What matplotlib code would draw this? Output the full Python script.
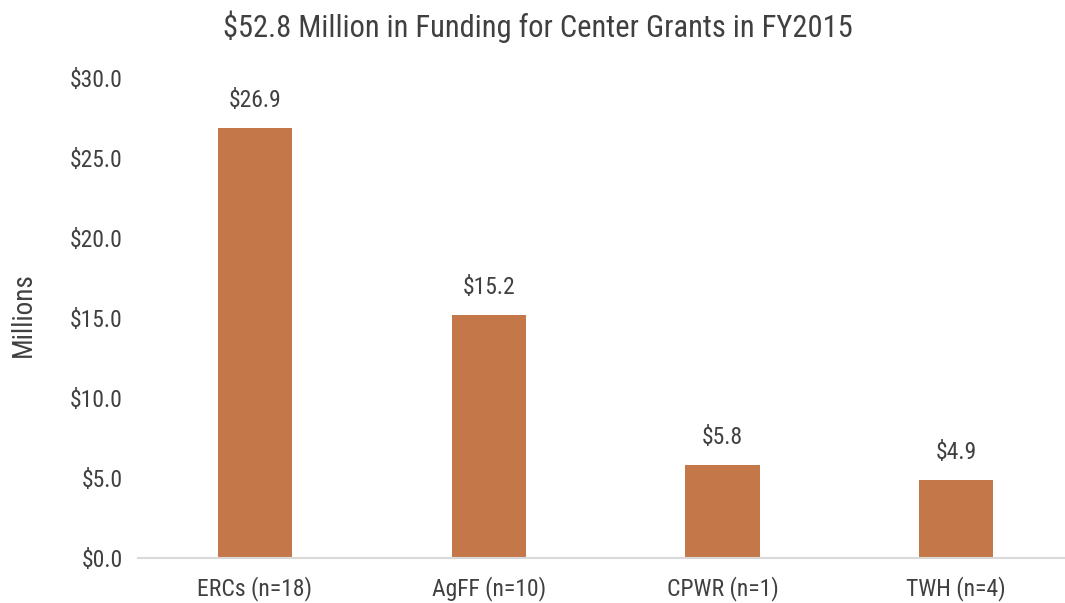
import matplotlib
matplotlib.use("Agg")
import matplotlib.pyplot as plt
from matplotlib.ticker import FuncFormatter

# --- Data --------------------------------------------------------------------

categories = ["ERCs (n=18)", "AgFF (n=10)", "CPWR (n=1)", "TWH (n=4)"]
funding = [26.9, 15.2, 5.8, 4.9]
yticks = [0, 5, 10, 15, 20, 25, 30]

plt.rcParams['font.family'] = ['Roboto Condensed', 'Liberation Sans Narrow', 'Roboto', 'DejaVu Sans']
text_color = '#404040'

# --- Plot --------------------------------------------------------------------

fig = plt.figure(figsize=(10.65, 6.03), dpi=100)
ax = fig.add_axes([138 / 1065, 45 / 603, (1065 - 138) / 1065, 480 / 603])

x = range(len(categories))
bars = ax.bar(x, funding, width=0.317, color='#C4784A', zorder=2)

for b, v in zip(bars, funding):
    ax.text(b.get_x() + b.get_width() / 2, v + 1.0, f"${v:.1f}",
            ha='center', va='bottom', fontsize=17, color=text_color)

ax.set_xlim(-0.5, 3.465)
ax.set_ylim(0, 30)
ax.set_yticks(yticks)
ax.yaxis.set_major_formatter(FuncFormatter(lambda v, p: f"${v:.1f}"))
ax.set_xticks(list(x))
ax.set_xticklabels(categories)
ax.tick_params(axis='both', length=0, labelsize=17, labelcolor=text_color)
ax.tick_params(axis='x', pad=13)
ax.tick_params(axis='y', pad=11)

for s in ['top', 'right', 'left']:
    ax.spines[s].set_visible(False)
ax.spines['bottom'].set_color('#D9D9D9')
ax.spines['bottom'].set_linewidth(1.5)

ax.set_ylabel("Millions", fontsize=19.5, color=text_color, va='center')
ax.yaxis.set_label_coords(-0.124, 0.508)
fig.text(538 / 1065, 1 - 27 / 603, "$52.8 Million in Funding for Center Grants in FY2015",
         ha='center', va='center', fontsize=22, color=text_color)

fig.savefig("out.png", dpi=100)
